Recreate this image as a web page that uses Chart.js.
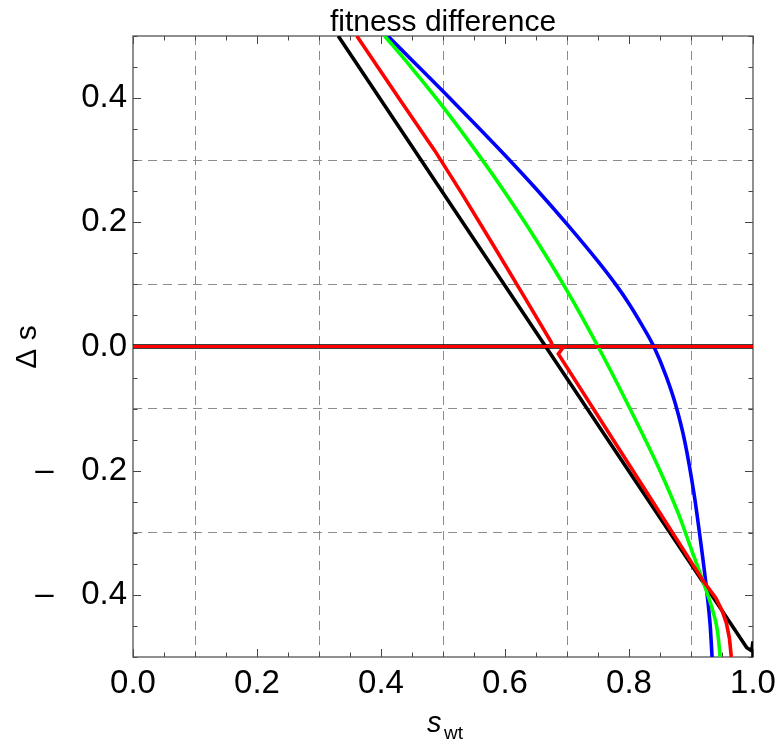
<!DOCTYPE html>
<html>
<head>
<meta charset="utf-8">
<script src="https://cdn.jsdelivr.net/npm/chart.js@4"></script>
<style>
html,body{margin:0;padding:0;background:#fff}
</style>
</head>
<body>
<canvas id="canvas" width="779" height="742"></canvas>
<script>
// curves: s_wt values and matching delta s
const blackS = [0.331, 0.99, 0.998, 1.0, 1.0];
const blackD = [0.5, -0.485, -0.49, -0.475, -0.5];

const blueS = [0.411, 0.45, 0.50, 0.55, 0.60, 0.65, 0.70, 0.75, 0.78, 0.80, 0.82, 0.84, 0.86, 0.875, 0.89, 0.905, 0.915, 0.925, 0.931, 0.934];
const blueD = [0.5, 0.461, 0.411, 0.36, 0.308, 0.254, 0.197, 0.137, 0.098, 0.069, 0.036, 0.0, -0.048, -0.093, -0.153, -0.238, -0.31, -0.39, -0.45, -0.5];

const greenS = [0.406, 0.45, 0.50, 0.55, 0.60, 0.65, 0.70, 0.75, 0.80, 0.85, 0.88, 0.90, 0.92, 0.935, 0.943, 0.947];
const greenD = [0.5, 0.448, 0.386, 0.319, 0.248, 0.172, 0.09, 0.0, -0.097, -0.2, -0.27, -0.325, -0.38, -0.425, -0.46, -0.5];

const redUpS = [0.361, 0.43, 0.487, 0.53, 0.58, 0.63, 0.674, 0.677];
const redUpD = [0.5, 0.398, 0.315, 0.247, 0.165, 0.082, 0.008, 0.0];

const redLowS = [0.695, 0.686, 0.80, 0.88, 0.92, 0.94, 0.95, 0.957, 0.962, 0.965];
const redLowD = [0.0, -0.012, -0.19, -0.315, -0.378, -0.405, -0.425, -0.445, -0.47, -0.5];

const zeroS = [0, 1];
const zeroD = [0, 0];

const xTicks = [0, 0.05, 0.1, 0.15, 0.2, 0.25, 0.3, 0.35, 0.4, 0.45, 0.5, 0.55, 0.6, 0.65, 0.7, 0.75, 0.8, 0.85, 0.9, 0.95, 1];
const yTicks = [-0.5, -0.45, -0.4, -0.35, -0.3, -0.25, -0.2, -0.15, -0.1, -0.05, 0, 0.05, 0.1, 0.15, 0.2, 0.25, 0.3, 0.35, 0.4, 0.45, 0.5];
const xLabelled = [0, 0.2, 0.4, 0.6, 0.8, 1];
const yLabelled = [-0.4, -0.2, 0, 0.2, 0.4];
const xGrid = [0.1, 0.3, 0.5, 0.7, 0.9];
const yGrid = [-0.3, -0.1, 0.1, 0.3];

const FONT = '"Liberation Sans", Arial, Helvetica, sans-serif';

function pts(xs, ys){
    return xs.map((x, i) => ({x: x, y: ys[i]}));
}
function near(list, v){
    return list.some(t => Math.abs(t - v) < 1e-6);
}
function fmt(v){
    if (Math.abs(v) < 1e-9) return '0.0';
    return v < 0 ? '\u2013   ' + (-v).toFixed(1) : v.toFixed(1);
}

const frame = {
    id: 'frame',
    beforeDatasetsDraw(chart){
        const {ctx, chartArea: a, scales: {x, y}} = chart;
        ctx.save();
        ctx.strokeStyle = '#444';
        ctx.lineWidth = 1;
        ctx.beginPath();
        xTicks.forEach(v => {
            const p = Math.round(x.getPixelForValue(v)) + 0.5;
            const len = near(xLabelled, v) ? 8 : 4.5;
            ctx.moveTo(p, a.bottom); ctx.lineTo(p, a.bottom - len);
            ctx.moveTo(p, a.top); ctx.lineTo(p, a.top + len);
        });
        yTicks.forEach(v => {
            const p = Math.round(y.getPixelForValue(v)) + 0.5;
            const len = near(yLabelled, v) ? 8 : 4.5;
            ctx.moveTo(a.left, p); ctx.lineTo(a.left + len, p);
            ctx.moveTo(a.right, p); ctx.lineTo(a.right - len, p);
        });
        ctx.stroke();
        ctx.strokeStyle = '#555';
        ctx.lineWidth = 1.3;
        ctx.strokeRect(a.left, a.top, a.right - a.left, a.bottom - a.top);
        ctx.restore();
    },
    afterDraw(chart){
        const ctx = chart.ctx;
        ctx.save();
        ctx.fillStyle = '#000';
        ctx.textAlign = 'center';
        ctx.textBaseline = 'alphabetic';
        ctx.font = '30px ' + FONT;
        ctx.fillText('fitness difference', 443, 31);

        ctx.save();
        ctx.translate(36, 347);
        ctx.rotate(-Math.PI / 2);
        ctx.font = '30px ' + FONT;
        ctx.fillText('\u0394 s', 0, 0);
        ctx.restore();

        ctx.textAlign = 'left';
        ctx.font = 'italic 29px ' + FONT;
        ctx.fillText('s', 427, 732);
        ctx.font = '19px ' + FONT;
        ctx.fillText('wt', 444, 739);
        ctx.restore();
    }
};

const line = (data, color, width, extra) => Object.assign({
    data: data,
    showLine: true,
    borderColor: color,
    backgroundColor: color,
    borderWidth: width,
    pointRadius: 0,
    tension: 0,
    fill: false
}, extra || {});

const ctx = document.getElementById('canvas').getContext('2d');
const myChart = new Chart(ctx, {
    type: 'scatter',
    data: {
        datasets: [
            line(pts(zeroS, zeroD), '#ff0000', 3.2),
            line(pts(redUpS, redUpD), '#ff0000', 3.6),
            line(pts(redLowS, redLowD), '#ff0000', 3.6),
            line(pts(greenS, greenD), '#00ff00', 3.6, {cubicInterpolationMode: 'monotone'}),
            line(pts(blueS, blueD), '#0000ff', 3.6, {cubicInterpolationMode: 'monotone'}),
            line(pts(blackS, blackD), '#000000', 3.6),
            line(pts(zeroS, zeroD), '#000000', 4.6)
        ]
    },
    options: {
        responsive: false,
        animation: false,
        events: [],
        layout: {padding: {left: 0, right: 26, top: 36, bottom: 0}},
        plugins: {legend: {display: false}, tooltip: {enabled: false}},
        scales: {
            x: {
                type: 'linear',
                min: 0,
                max: 1,
                afterBuildTicks: s => { s.ticks = xTicks.map(v => ({value: v})); },
                afterFit: s => { s.height = 85; s.paddingLeft = 0; s.paddingRight = 0; },
                ticks: {
                    autoSkip: false,
                    maxRotation: 0,
                    minRotation: 0,
                    padding: 7,
                    color: '#000',
                    font: {family: FONT, size: 33},
                    callback: v => near(xLabelled, v) ? fmt(v) : ''
                },
                grid: {
                    drawTicks: false,
                    lineWidth: 1,
                    color: c => near(xGrid, c.tick.value) ? '#8c8c8c' : 'rgba(0,0,0,0)'
                },
                border: {display: false, dash: [9, 6]}
            },
            y: {
                type: 'linear',
                min: -0.5,
                max: 0.5,
                afterBuildTicks: s => { s.ticks = yTicks.map(v => ({value: v})); },
                afterFit: s => { s.width = 133; s.paddingTop = 0; s.paddingBottom = 0; },
                ticks: {
                    autoSkip: false,
                    padding: 6,
                    color: '#000',
                    font: {family: FONT, size: 33},
                    callback: v => near(yLabelled, v) ? fmt(v) : ''
                },
                grid: {
                    drawTicks: false,
                    lineWidth: 1,
                    color: c => near(yGrid, c.tick.value) ? '#8c8c8c' : 'rgba(0,0,0,0)'
                },
                border: {display: false, dash: [9, 6]}
            }
        }
    },
    plugins: [frame]
});
</script>
</body>
</html>
